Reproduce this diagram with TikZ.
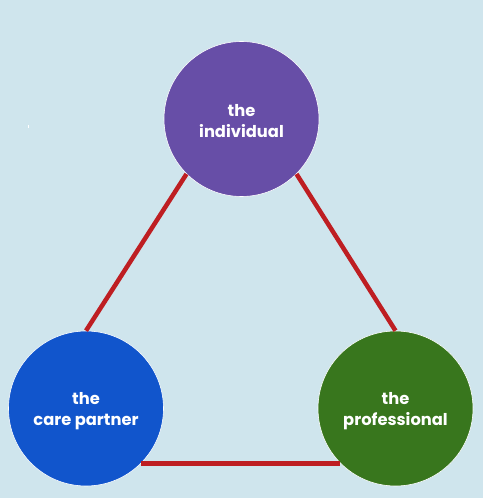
\documentclass[tikz,border=0pt]{standalone}
\usepackage{fontspec}
\setmainfont{Poppins}[UprightFont=* SemiBold, BoldFont=* Bold]
\definecolor{bgblue}{HTML}{CFE5ED}
\definecolor{cpurple}{HTML}{674EA7}
\definecolor{cblue}{HTML}{1155CC}
\definecolor{cgreen}{HTML}{38761D}
\definecolor{cred}{HTML}{BE1E22}
\begin{document}
\begin{tikzpicture}[x=1pt,y=1pt,
  bubble/.style={circle, draw=white, line width=0.6pt, minimum size=155pt, inner sep=0pt,
    text=white, align=center, font=\bfseries\fontsize{16.3}{20.5}\selectfont},
  link/.style={draw=cred, line width=4.5pt}]
\fill[bgblue] (0,0) rectangle (483,498);
\useasboundingbox (0,0) rectangle (483,498);
\fill[white] (27.5,370) rectangle (29.2,373);
\node[bubble, fill=cpurple] (ind) at (241.5,379) {};
\node[bubble, fill=cblue] (care) at (86,89.5) {};
\node[bubble, fill=cgreen] (pro) at (395.5,89.5) {};
\node[text=white, align=center, font=\bfseries\fontsize{16.3}{20.5}\selectfont] (tind) at ([yshift=-2pt]ind.center) {the\\individual};
\node[text=white, align=center, font=\bfseries\fontsize{16.3}{20.5}\selectfont] (tcare) at ([yshift=-2.5pt]care.center) {the\\care partner};
\node[text=white, align=center, font=\bfseries\fontsize{16.3}{20.5}\selectfont] (tpro) at ([yshift=-2.5pt]pro.center) {the\\professional};
\draw[link] (ind.-135) -- (care.90);
\draw[link] (ind.-45) -- (pro.90);
\draw[link] (care.-45) -- (pro.-135);
\end{tikzpicture}
\end{document}
